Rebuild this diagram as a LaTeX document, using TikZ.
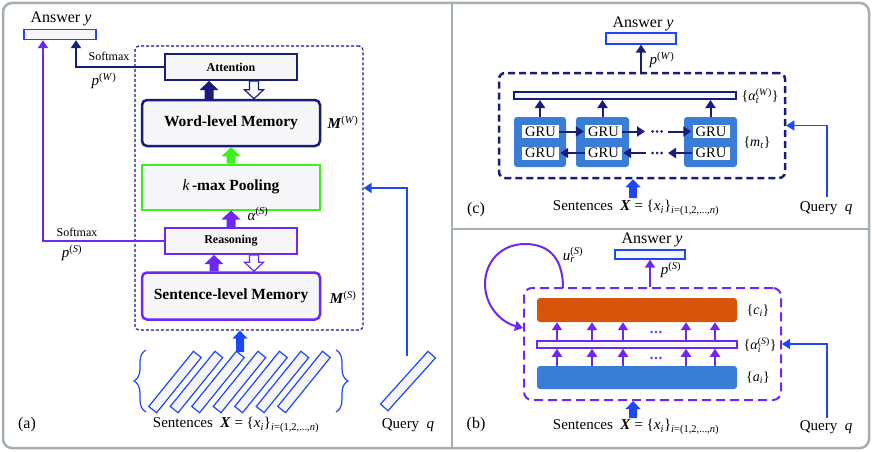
\documentclass[tikz,border=0pt]{standalone}
\usepackage{fontspec}
\setmainfont{Liberation Serif}
\usetikzlibrary{arrows.meta,calc,decorations.pathreplacing}
\definecolor{navy}{RGB}{25,28,120}
\definecolor{purp}{RGB}{110,40,245}
\definecolor{qblue}{RGB}{30,70,250}
\definecolor{pgreen}{RGB}{60,240,30}
\definecolor{grub}{RGB}{58,125,215}
\definecolor{orng}{RGB}{215,85,10}
\definecolor{frm}{RGB}{165,175,175}
\definecolor{boxfill}{RGB}{246,246,248}
\def\bsw{4.5}\def\bhw{9.5}\def\bhl{9}
% block arrow between two points on the same vertical
\newcommand\blk[3][]{\path[#1] let \p1=(#2), \p2=(#3), \n2={\y2-sign(\y2-\y1)*\bhl pt} in
  ({\x1-\bsw pt},\y1) -- ({\x1-\bsw pt},{\n2*1pt}) -- ({\x1-\bhw pt},{\n2*1pt}) -- (\x1,\y2)
  -- ({\x1+\bhw pt},{\n2*1pt}) -- ({\x1+\bsw pt},{\n2*1pt}) -- ({\x1+\bsw pt},\y1) -- cycle;}
\newcommand\subsup[2]{\rlap{\textsubscript{#1}}\textsuperscript{#2}}
\begin{document}
\begin{tikzpicture}[x=1pt,y=-1pt,
  txt/.style={font=\fontsize{15}{18}\selectfont, inner sep=0pt},
  anst/.style={font=\fontsize{16}{18}\selectfont, inner sep=0pt},
  lbl/.style={font=\fontsize{14}{17}\selectfont, inner sep=0pt},
  smtxt/.style={font=\fontsize{12}{14}\selectfont, inner sep=0pt},
  ansbox/.style={draw=qblue, fill=boxfill, line width=1.2pt, minimum width=70pt, minimum height=10pt, inner sep=0pt},
  smallbox/.style={fill=boxfill, line width=2pt, minimum width=132pt, minimum height=26pt, inner sep=0pt, font=\bfseries\fontsize{12}{14}\selectfont},
  bigbox/.style={fill=boxfill, line width=2.5pt, rounded corners=5pt, minimum width=178pt, minimum height=46pt, inner sep=0pt, font=\bfseries\fontsize{15.5}{18}\selectfont},
  sbar/.style={draw=qblue, fill=boxfill, line width=1.2pt, minimum width=71pt, minimum height=10pt, inner sep=0pt},
  arr/.style={-{Triangle[length=8pt,width=10pt]}},
  grublk/.style={fill=grub, rounded corners=3pt, minimum width=52pt, minimum height=50pt, inner sep=0pt},
  gru/.style={fill=white, minimum width=37pt, minimum height=13pt, inner sep=0pt, font=\fontsize{14.5}{16}\selectfont},
  navarr/.style={navy, line width=2pt, arr},
  purarr/.style={purp, line width=2pt, arr},
]
\useasboundingbox (0,0) rectangle (872,452);
% frame
\draw[frm, line width=2.5pt, rounded corners=9pt] (3,3) rectangle (869,448);
\draw[frm, line width=1.2pt] (452,3) -- (452,448) (452,229) -- (869,229);

% ================= panel (a)
\node[anst] (ansAt) at (61,19) {Answer \textit{y}};
\node[ansbox, minimum width=72pt] (ansA) at (60,34.5) {};
\node[draw=navy, line width=1.2pt, dash pattern=on 3pt off 2pt, rounded corners=4pt, minimum width=228pt, minimum height=284pt, inner sep=0pt] (dA) at (249,188) {};
\node[smallbox, draw=navy] (att) at (231,67) {Attention};
\node[bigbox, draw=navy] (wm) at (231,123) {Word-level Memory};
\node[bigbox, draw=pgreen, line width=2pt, rounded corners=0pt, minimum height=45pt] (kp) at (231,187) {{\mdseries\itshape k}\,-max Pooling};
\node[smallbox, draw=purp] (rs) at (231,241) {Reasoning};
\node[bigbox, draw=purp, minimum height=47pt] (sm) at (231,296) {Sentence-level Memory};
\node[txt] (MW) at (343,122) {\textbf{\textit{M}}\textsuperscript{(\textit{W})}};
\node[txt] (MS) at (343,297) {\textbf{\textit{M}}\textsuperscript{(\textit{S})}};
\node[txt] (alA) at (258,214) {\textit{α}\textsuperscript{(\textit{S})}};
\blk[fill=navy]{$(wm.north)+(-22,0)$}{$(att.south)+(-22,0)$}
\blk[draw=navy, fill=white, line width=1.2pt]{$(att.south)+(23,0)$}{$(wm.north)+(23,0)$}
\blk[fill=pgreen]{kp.north}{wm.south}
\blk[fill=purp]{rs.north}{kp.south}
\blk[fill=purp]{$(sm.north)+(-17,0)$}{$(rs.south)+(-17,0)$}
\blk[draw=purp, fill=white, line width=1.2pt]{$(rs.south)+(23,0)$}{$(sm.north)+(23,0)$}
\def\bsw{4}\def\bhw{7.5}\def\bhl{8}
\coordinate (xinA) at (240,352);
\blk[fill=qblue]{xinA}{xinA |- dA.south}
\draw[navy, line width=2pt, arr] (att.west) -| ($(ansA.south)+(16,0)$);
\draw[purp, line width=1.5pt, arr] (rs.west) -| ($(ansA.south)+(-17,0)$);
\node[smtxt] (smW) at (109,56) {Softmax};
\node[txt] (pW) at (104,81) {\textit{p}\textsuperscript{(\textit{W})}};
\node[smtxt] (smS) at (77,232) {Softmax};
\node[txt] (pS) at (72,253) {\textit{p}\textsuperscript{(\textit{S})}};
\foreach \i in {0,...,6} \node[sbar, rotate=51] (s\i) at ({175+21.5*\i},382) {};
\node[sbar, rotate=48] (qA) at (408,381) {};
\draw[qblue, line width=1.2pt, decorate, decoration={brace, amplitude=12pt, aspect=0.5}] (146,412) -- (146,350);
\draw[qblue, line width=1.2pt, decorate, decoration={brace, amplitude=12pt, aspect=0.5}] (336,350) -- (336,412);
\coordinate (qtopA) at (407,356);
\draw[qblue, line width=1.5pt, arr] (qtopA) |- (dA.east);
\node[anst] (la) at (27,425) {(a)};
\node[txt] (senA) at (236,425) {Sentences\ \ \textbf{\textit{X}} = \{\textit{x}\textsubscript{\textit{i}}\}\textsubscript{\textit{i}=(1,2,...,\textit{n})}};
\node[txt] (qryA) at (408,425) {Query\ \ \textit{q}};

% ================= panel (c)
\node[anst] (ansCt) at (643,24) {Answer \textit{y}};
\node[ansbox, minimum height=11pt] (ansC) at (641,38.5) {};
\node[draw=navy, line width=2.5pt, dash pattern=on 7pt off 4pt, rounded corners=6pt, minimum width=286pt, minimum height=105pt, inner sep=0pt] (dC) at (642,125.5) {};
\draw[navarr] (dC.north -| ansC.south) -- (ansC.south);
\node[txt] (pWc) at (662,60) {\textit{p}\textsuperscript{(\textit{W})}};
\node[draw=navy, fill=boxfill, line width=2pt, minimum width=222pt, minimum height=7pt, inner sep=0pt] (barC) at (625,95.5) {};
\node[lbl] (alC) at (760,96) {\{\textit{α}\subsup{\textit{t}}{(\textit{W})}\}};
\node[grublk] (b1) at (540,142) {};
\node[grublk, minimum width=53pt] (b2) at (602.5,142) {};
\node[grublk, minimum width=53pt] (b3) at (710.5,142) {};
\node[gru] (t1) at (540.5,131.5) {GRU};
\node[gru] (d1) at (540.5,153) {GRU};
\node[gru] (t2) at (603.5,131.5) {GRU};
\node[gru] (d2) at (603.5,153) {GRU};
\node[gru] (t3) at (711,131.5) {GRU};
\node[gru] (d3) at (711,153) {GRU};
\foreach \b in {b1,b2,b3} \draw[navarr] (\b.north) -- (barC.south -| \b.north);
\coordinate (ct1) at (645,131.5);
\coordinate (ct2) at (668,131.5);
\coordinate (cb1) at (646,153);
\coordinate (cb2) at (668,153);
\draw[navarr, shorten >=1pt] (t1.east) -- (t2.west);
\draw[navarr] (t2.east) -- (ct1);
\draw[navarr, shorten >=1pt] (ct2) -- (t3.west);
\draw[navarr, shorten >=1pt] (d2.west) -- (d1.east);
\draw[navarr, shorten >=1pt] (cb1) -- (d2.east);
\draw[navarr] (d3.west) -- (cb2);
\foreach \dx in {-4.5,0,4.5} {\fill[navy] ({657+\dx},131.5) circle (1.5); \fill[navy] ({657+\dx},153) circle (1.5);}
\node[lbl] (mC) at (757,143) {\{\textit{m}\textsubscript{\textit{t}}\}};
\coordinate (xinC) at (633,198);
\blk[fill=qblue]{xinC}{xinC |- dC.south}
\node[txt] (senC) at (636,208) {Sentences\ \ \textbf{\textit{X}} = \{\textit{x}\textsubscript{\textit{i}}\}\textsubscript{\textit{i}=(1,2,...,\textit{n})}};
\node[txt] (qryC) at (826,208) {Query\ \ \textit{q}};
\node[anst] (lc) at (476,210) {(c)};
\coordinate (qC) at (827,197);
\draw[qblue, line width=1.5pt, arr] (qC) |- (dC.east);

% ================= panel (b)
\node[anst] (ansBt) at (652,240) {Answer \textit{y}};
\node[ansbox, minimum height=9pt] (ansB) at (650,254.5) {};
\node[draw=purp, line width=2pt, dash pattern=on 9pt off 5pt, rounded corners=8pt, minimum width=257pt, minimum height=112pt, inner sep=0pt] (dB) at (652.5,344) {};
\draw[purarr] (dB.north -| ansB.south) -- (ansB.south);
\node[txt] (pSb) at (671,270) {\textit{p}\textsuperscript{(\textit{S})}};
\node[fill=orng, rounded corners=3pt, minimum width=200pt, minimum height=24pt, inner sep=0pt] (orB) at (637,310) {};
\node[draw=purp, fill=boxfill, line width=1.5pt, minimum width=200pt, minimum height=7pt, inner sep=0pt] (barB) at (637,344.5) {};
\node[fill=grub, rounded corners=3pt, minimum width=200pt, minimum height=23pt, inner sep=0pt] (blB) at (637,377.5) {};
\foreach \x in {557,592,623,686,715} {
  \draw[purarr] (barB.north -| \x,0) -- (orB.south -| \x,0);
  \draw[purarr] (blB.north -| \x,0) -- (barB.south -| \x,0);
}
\foreach \dx in {-4.5,0,4.5} {\fill[purp] ({656+\dx},332) circle (1.3); \fill[purp] ({656+\dx},358) circle (1.3);}
\node[lbl] (cB) at (758,311) {\{\textit{c}\textsubscript{\textit{i}}\}};
\node[lbl] (alB) at (760,345) {\{\textit{α}\subsup{\textit{i}}{(\textit{S})}\}};
\node[lbl] (aB) at (758,378) {\{\textit{a}\textsubscript{\textit{i}}\}};
\coordinate (ls) at (563,288);
\coordinate (le) at (523,328);
\draw[purp, line width=2pt, arr] (ls) .. controls (563,255) and (546,244) .. (525,244)
  .. controls (501,244) and (485,262) .. (485,284) .. controls (485,305) and (500,322) .. (le);
\node[txt] (uB) at (573,255) {\textit{u}\subsup{\textit{r}}{(\textit{S})}};
\coordinate (xinB) at (633,418);
\blk[fill=qblue]{xinB}{xinB |- dB.south}
\node[txt] (senB) at (636,427) {Sentences\ \ \textbf{\textit{X}} = \{\textit{x}\textsubscript{\textit{i}}\}\textsubscript{\textit{i}=(1,2,...,\textit{n})}};
\node[txt] (qryB) at (826,427) {Query\ \ \textit{q}};
\node[anst] (lb) at (476,425) {(b)};
\coordinate (qB) at (827,418);
\draw[qblue, line width=1.5pt, arr] (qB) |- (dB.east);
\end{tikzpicture}
\end{document}
